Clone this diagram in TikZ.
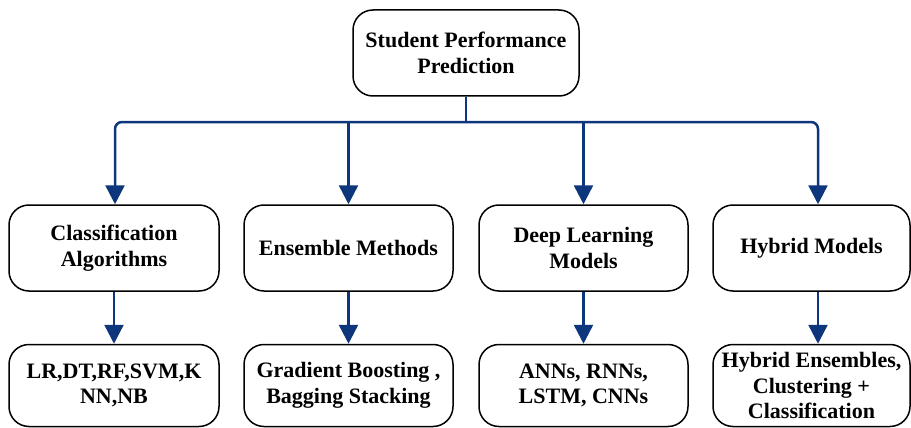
\documentclass[tikz,border=0pt]{standalone}
\usepackage{fontspec}
\newfontfamily\labelfont{Liberation Serif}
\usetikzlibrary{arrows.meta}
\definecolor{linkblue}{RGB}{14,54,124}
\tikzset{
  box/.style={draw=black, line width=1.5pt, rounded corners=20pt, fill=white,
    align=center, inner sep=2pt,
    font=\labelfont\fontsize{22}{25.5}\selectfont\bfseries},
  link/.style={draw=linkblue, line width=2.5pt, line join=round},
  linkarrow/.style={link, -{Triangle[width=19pt,length=19pt]}},
}
\begin{document}
\begin{tikzpicture}[x=1pt, y=-1pt]
  \useasboundingbox (0,0) rectangle (911,428);

  % root
  \node[box, minimum width=226pt, minimum height=86pt] (root) at (466,53)
    {Student Performance\\Prediction};

  % model families
  \node[box, minimum width=210pt, minimum height=86pt] (m1) at (114,248)
    {Classification\\Algorithms};
  \node[box, minimum width=209pt, minimum height=86pt] (m2) at (348.5,248)
    {Ensemble Methods};
  \node[box, minimum width=209pt, minimum height=86pt] (m3) at (583.5,248)
    {Deep Learning\\Models};
  \node[box, minimum width=197pt, minimum height=86pt] (m4) at (811.5,248)
    {Hybrid Models};

  % examples
  \node[box, minimum width=210pt, minimum height=82pt] (b1) at (114,385.5)
    {LR,DT,RF,SVM,K\\NN,NB};
  \node[box, minimum width=209pt, minimum height=82pt] (b2) at (348.5,385.5)
    {Gradient Boosting ,\\Bagging Stacking};
  \node[box, minimum width=209pt, minimum height=82pt] (b3) at (583.5,385.5)
    {ANNs, RNNs,\\LSTM, CNNs};
  \node[box, minimum width=197pt, minimum height=82pt] (b4) at (811.5,385.5)
    {Hybrid Ensembles,\\Clustering +\\Classification};

  % tree connectors
  \coordinate (j) at (466,122);
  \draw[link] (root.south) -- (j);
  \draw[linkarrow, rounded corners=7pt] (j) -| ([xshift=1pt]m1.north);
  \draw[linkarrow] (j) -| (m2.north);
  \draw[linkarrow] (j) -| (m3.north);
  \draw[linkarrow, rounded corners=7pt] (j) -| ([xshift=6.5pt]m4.north);

  \draw[linkarrow] (m1.south) -- (b1.north);
  \draw[linkarrow] (m2.south) -- (b2.north);
  \draw[linkarrow] (m3.south) -- (b3.north);
  \draw[linkarrow] ([xshift=6.5pt]m4.south) -- ([xshift=6.5pt]b4.north);
\end{tikzpicture}
\end{document}
